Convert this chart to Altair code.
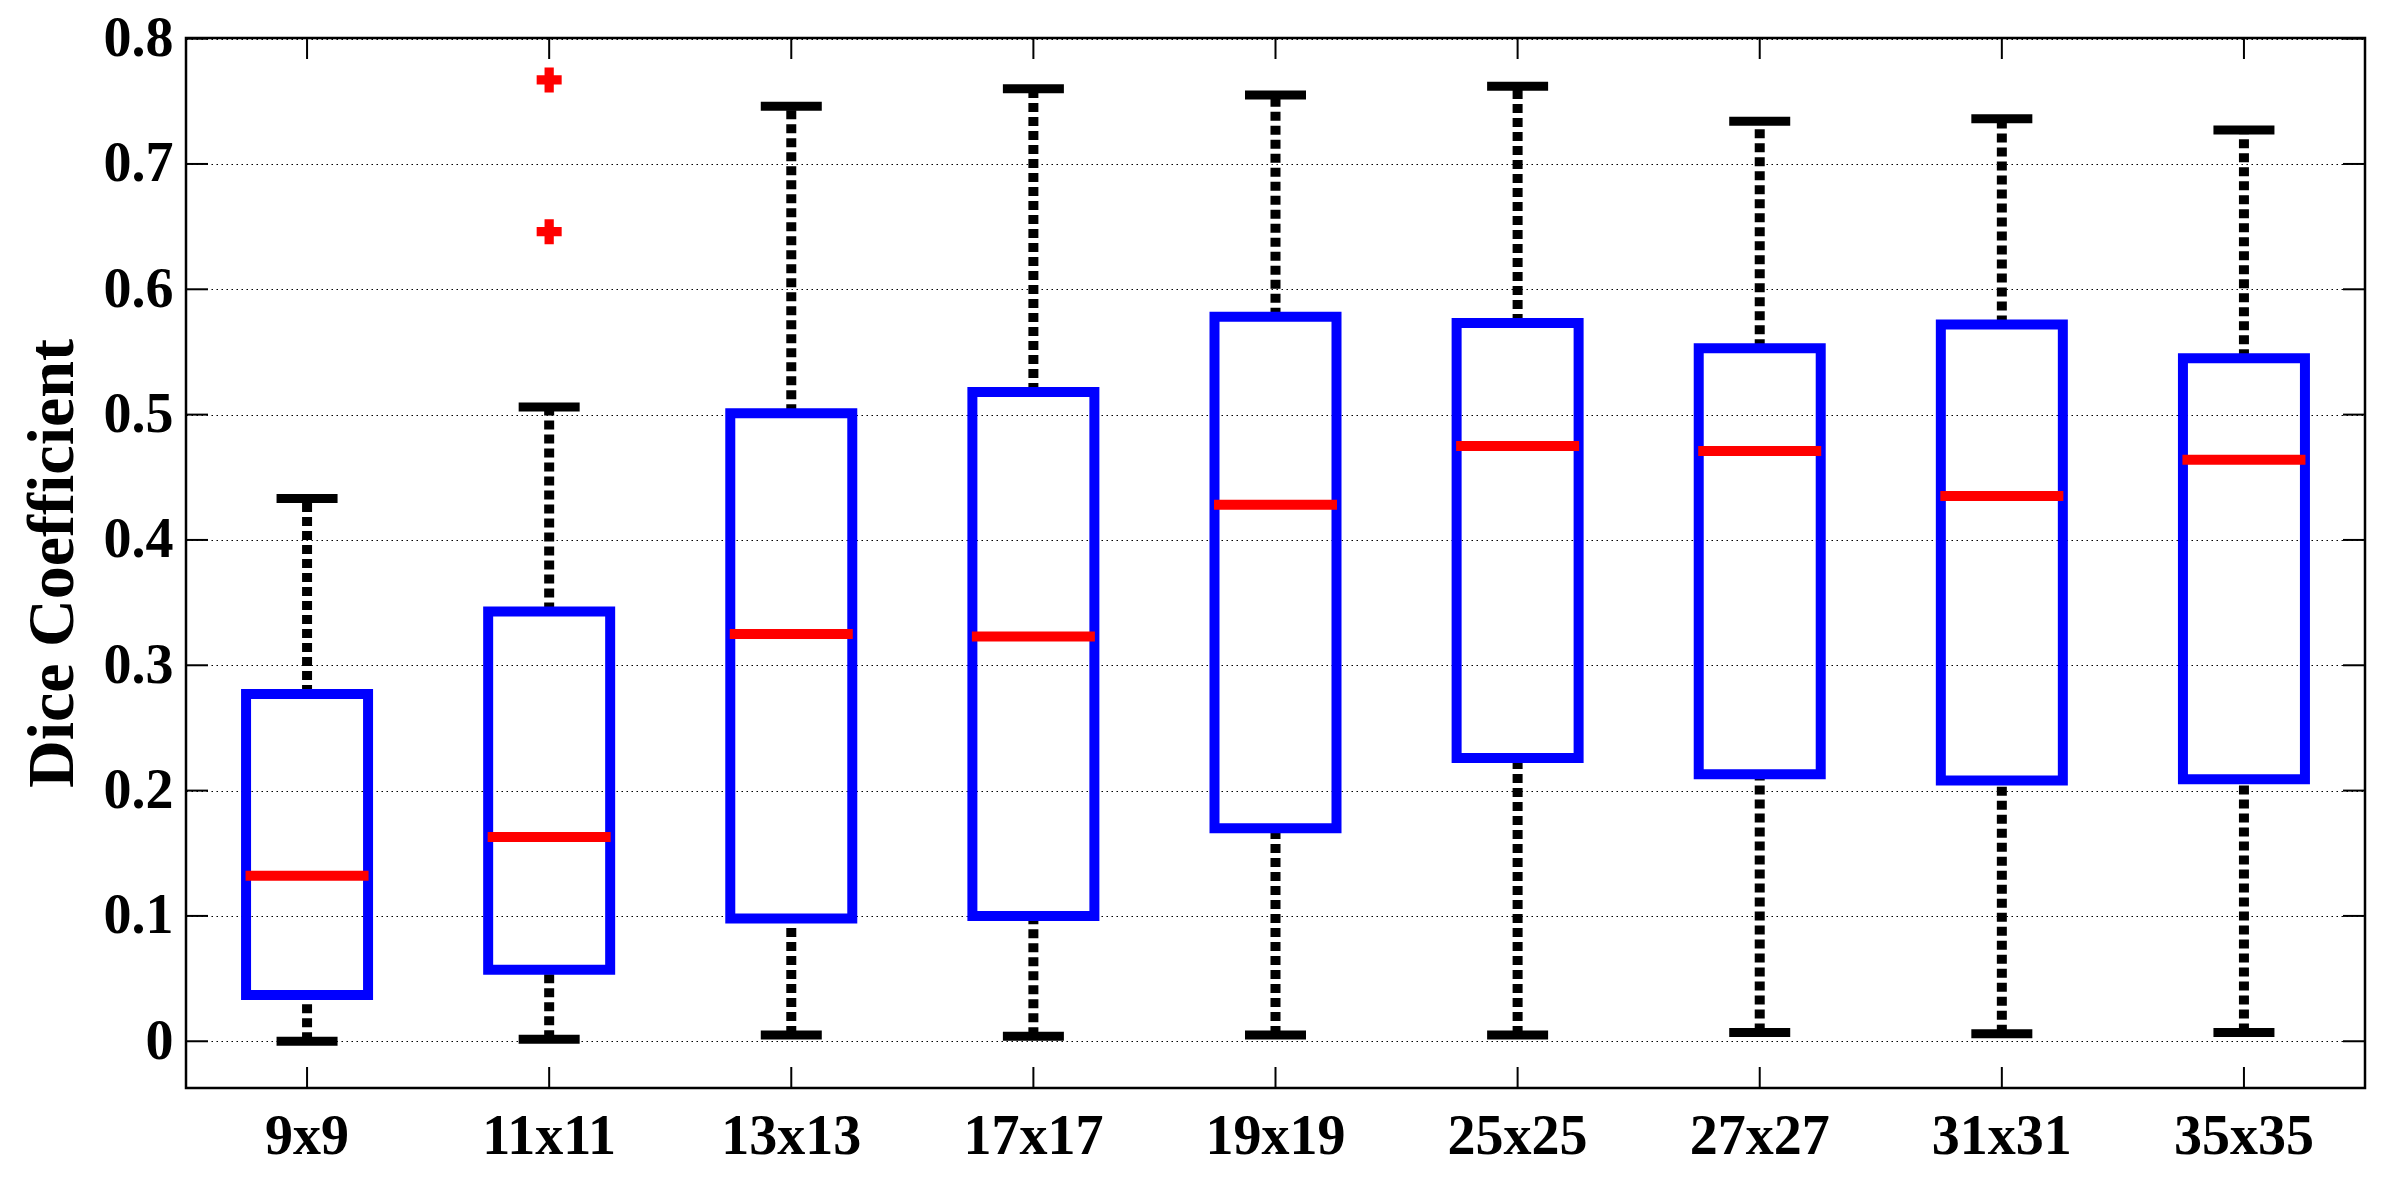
import altair as alt
import pandas as pd

categories = ["9x9", "11x11", "13x13", "17x17", "19x19", "25x25", "27x27", "31x31", "35x35"]
whisker_low = [0.000, 0.0015, 0.005, 0.004, 0.005, 0.005, 0.007, 0.006, 0.007]
q1 = [0.037, 0.057, 0.098, 0.100, 0.170, 0.226, 0.213, 0.208, 0.209]
median = [0.132, 0.163, 0.325, 0.323, 0.428, 0.475, 0.471, 0.435, 0.464]
q3 = [0.277, 0.343, 0.501, 0.518, 0.578, 0.573, 0.553, 0.572, 0.545]
whisker_high = [0.433, 0.506, 0.746, 0.760, 0.755, 0.762, 0.734, 0.736, 0.727]
outlier_cat = ["11x11", "11x11"]
outlier_val = [0.767, 0.646]
y_ticks = [0, 0.1, 0.2, 0.3, 0.4, 0.5, 0.6, 0.7, 0.8]

W, H = 2179, 1050
FONT = "Liberation Serif"

df = pd.DataFrame({"cat": categories, "low": whisker_low, "q1": q1,
                   "med": median, "q3": q3, "high": whisker_high})
out_df = pd.DataFrame({"cat": outlier_cat, "v": outlier_val})
yt_df = pd.DataFrame({"v": y_ticks})
xt_df = pd.DataFrame({"cat": categories})

xscale = alt.Scale(domain=categories, paddingInner=0, paddingOuter=0)
yscale = alt.Scale(domain=[-0.0373, 0.8005], nice=False, zero=False)

x_axis = alt.Axis(title=None, labelAngle=0, labelFont=FONT, labelFontSize=56,
                  labelFontWeight="bold", labelColor="black", labelBaseline="top",
                  labelPadding=21, ticks=False, domain=False, grid=False)
y_axis = alt.Axis(title="Dice Coefficient", values=y_ticks, format="~g",
                  labelFont=FONT, labelFontSize=56, labelFontWeight="bold",
                  labelColor="black", labelPadding=13, ticks=False, domain=False,
                  grid=True, gridColor="black", gridDash=[1.5, 3.5], gridWidth=1.2,
                  titleFont=FONT, titleFontSize=66, titleFontWeight="bold",
                  titleColor="black", titleAngle=270, titleAlign="center",
                  titleBaseline="alphabetic", titleX=-114, titleY=H / 2)


def X():
    return alt.X("cat:N", sort=categories, scale=xscale, axis=x_axis)


def Y(field):
    return alt.Y(field, scale=yscale, axis=y_axis)


whisk_up = alt.Chart(df).mark_rule(color="black", strokeWidth=10, strokeDash=[9, 5]).encode(
    x=X(), y=Y("q3:Q"), y2="high:Q")
whisk_lo = alt.Chart(df).mark_rule(color="black", strokeWidth=10, strokeDash=[9, 5]).encode(
    x=X(), y=Y("low:Q"), y2="q1:Q")
box = alt.Chart(df).mark_bar(size=122, fill="white", fillOpacity=0, stroke="#0000FF",
                             strokeWidth=10).encode(
    x=X(), y=Y("q1:Q"), y2="q3:Q")
cap_hi = alt.Chart(df).mark_tick(size=61, thickness=9, color="black", opacity=1).encode(
    x=X(), y=Y("high:Q"))
cap_lo = alt.Chart(df).mark_tick(size=61, thickness=9, color="black", opacity=1).encode(
    x=X(), y=Y("low:Q"))
med = alt.Chart(df).mark_tick(size=123, thickness=10, color="#FF0000", opacity=1).encode(
    x=X(), y=Y("med:Q"))

plus_path = "M-1,-0.37H-0.37V-1H0.37V-0.37H1V0.37H0.37V1H-0.37V0.37H-1Z"
outl = alt.Chart(out_df).mark_point(shape=plus_path, size=625, filled=True, color="#FF0000",
                                    opacity=1, strokeWidth=0).encode(
    x=X(), y=Y("v:Q"))

tick_l = alt.Chart(yt_df).mark_rule(color="black", strokeWidth=2).encode(
    y=Y("v:Q"), x=alt.value(0), x2=alt.value(22))
tick_r = alt.Chart(yt_df).mark_rule(color="black", strokeWidth=2).encode(
    y=Y("v:Q"), x=alt.value(W - 22), x2=alt.value(W))
tick_b = alt.Chart(xt_df).mark_rule(color="black", strokeWidth=2).encode(
    x=X(), y=alt.value(H - 21), y2=alt.value(H))
tick_t = alt.Chart(xt_df).mark_rule(color="black", strokeWidth=2).encode(
    x=X(), y=alt.value(0), y2=alt.value(21))

chart = alt.layer(
    whisk_up, whisk_lo, box, cap_hi, cap_lo, med, outl, tick_l, tick_r, tick_b, tick_t
).properties(
    width=W, height=H,
    autosize=alt.AutoSizeParams(type="none"),
    padding={"left": 178, "top": 30, "right": 10, "bottom": 80},
    background="white",
).configure_view(stroke="black", strokeWidth=2.5)

chart.save("out.html", embed_options={"renderer": "svg", "actions": False})
